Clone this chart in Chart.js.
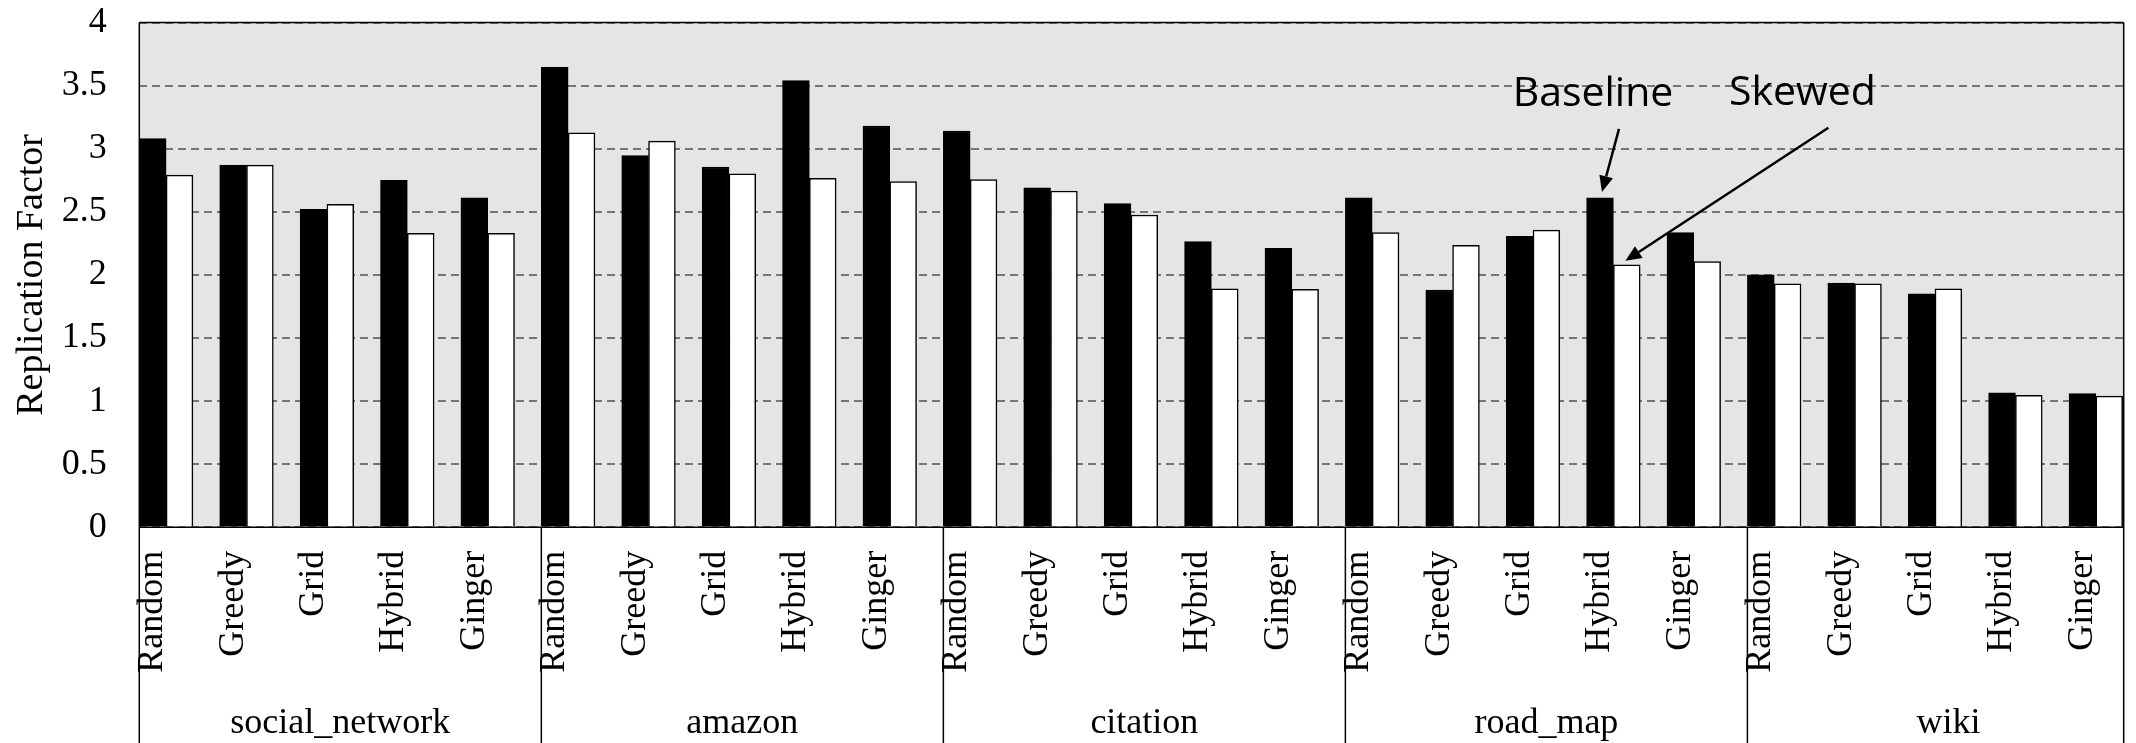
<!DOCTYPE html>
<html>
<head>
<meta charset="utf-8">
<script src="https://cdn.jsdelivr.net/npm/chart.js@4/dist/chart.umd.min.js"></script>
<style>
  html, body { margin: 0; padding: 0; background: #fff; overflow: hidden; }
  #wrap { position: relative; width: 2136px; height: 743px; }
</style>
</head>
<body>
<div id="wrap"><canvas id="chart"></canvas></div>
<script>
// Datasets (graph) and partitioning methods
const groups = ['social_network', 'amazon', 'citation', 'road_map', 'wiki'];
const methods = ['Random', 'Greedy', 'Grid', 'Hybrid', 'Ginger'];

// Replication factor per group, in method order
const baselineSocial   = [3.08, 2.87, 2.52, 2.75, 2.61];
const baselineAmazon   = [3.645, 2.945, 2.855, 3.54, 3.18];
const baselineCitation = [3.14, 2.69, 2.565, 2.265, 2.21];
const baselineRoad     = [2.61, 1.88, 2.305, 2.61, 2.335];
const baselineWiki     = [2.00, 1.935, 1.85, 1.065, 1.06];

const skewedSocial   = [2.79, 2.87, 2.56, 2.33, 2.33];
const skewedAmazon   = [3.125, 3.06, 2.80, 2.765, 2.74];
const skewedCitation = [2.755, 2.665, 2.475, 1.89, 1.885];
const skewedRoad     = [2.335, 2.235, 2.355, 2.08, 2.105];
const skewedWiki     = [1.93, 1.93, 1.89, 1.045, 1.04];

const yTickLabels = ['0', '0.5', '1', '1.5', '2', '2.5', '3', '3.5', '4'];

const baselineAll = [].concat(baselineSocial, baselineAmazon, baselineCitation, baselineRoad, baselineWiki);
const skewedAll = [].concat(skewedSocial, skewedAmazon, skewedCitation, skewedRoad, skewedWiki);
const slotCount = groups.length * methods.length;
const toPoints = vals => vals.map((v, i) => ({ x: i, y: v }));
const emptySlot = Array.from({ length: slotCount }, (_, i) => ({ x: i, y: null }));

const SERIF = '"Liberation Serif", "Times New Roman", serif';
const SANS = '"Open Sans", "Noto Sans", sans-serif';

function drawArrow(ctx, x0, y0, x1, y1) {
  const ang = Math.atan2(y1 - y0, x1 - x0);
  const len = 16, half = 7;
  const bx = x1 - len * Math.cos(ang), by = y1 - len * Math.sin(ang);
  ctx.beginPath();
  ctx.moveTo(x0, y0);
  ctx.lineTo(bx, by);
  ctx.stroke();
  ctx.beginPath();
  ctx.moveTo(x1, y1);
  ctx.lineTo(bx + half * Math.sin(ang), by - half * Math.cos(ang));
  ctx.lineTo(bx - half * Math.sin(ang), by + half * Math.cos(ang));
  ctx.closePath();
  ctx.fill();
}

// Plot background, frame, multi-level category axis and callouts
const decorations = {
  id: 'decorations',
  beforeDraw(chart) {
    const { ctx, chartArea: a } = chart;
    ctx.save();
    ctx.fillStyle = '#e5e5e5';
    ctx.fillRect(a.left, a.top, a.right - a.left, a.bottom - a.top);
    ctx.restore();
  },
  afterDraw(chart) {
    const { ctx, chartArea: a, scales: { x, y } } = chart;
    const H = chart.height;
    ctx.save();

    // frame and group separators
    ctx.strokeStyle = '#000';
    ctx.lineWidth = 1.5;
    ctx.beginPath();
    ctx.moveTo(a.left, a.top);
    ctx.lineTo(a.right, a.top);
    ctx.moveTo(a.left, a.bottom);
    ctx.lineTo(a.right, a.bottom);
    ctx.moveTo(a.right, a.top);
    ctx.lineTo(a.right, H);
    for (let g = 0; g < groups.length; g++) {
      const gx = x.getPixelForValue(g * methods.length - 0.5);
      ctx.moveTo(gx, g === 0 ? a.top : a.bottom);
      ctx.lineTo(gx, H);
    }
    ctx.stroke();

    // method labels, read upwards, under the first bar of each pair
    ctx.fillStyle = '#000';
    ctx.font = '36px ' + SERIF;
    ctx.textAlign = 'right';
    ctx.textBaseline = 'middle';
    for (let i = 0; i < slotCount; i++) {
      ctx.save();
      ctx.translate(x.getPixelForValue(i - 1 / 3), a.bottom + 23.5);
      ctx.rotate(-Math.PI / 2);
      ctx.fillText(methods[i % methods.length], 0, 0);
      ctx.restore();
    }

    // group labels
    ctx.textAlign = 'center';
    ctx.textBaseline = 'alphabetic';
    groups.forEach((g, gi) => {
      ctx.fillText(g, x.getPixelForValue(gi * methods.length + 2), a.bottom + 206);
    });

    // callouts on road_map / Hybrid
    const idx = groups.indexOf('road_map') * methods.length + methods.indexOf('Hybrid');
    const slotW = (x.getPixelForValue(1) - x.getPixelForValue(0)) / 3;
    const groupLeft = x.getPixelForValue(idx - 0.5);
    const tipB = { x: groupLeft + slotW / 2 + 2, y: y.getPixelForValue(baselineAll[idx]) - 6 };
    const tailB = { x: tipB.x + 17, y: tipB.y - 63 };
    const tipS = { x: groupLeft + slotW + 12, y: y.getPixelForValue(skewedAll[idx]) - 4 };
    const tailS = { x: tipS.x + 203, y: tipS.y - 133 };

    ctx.lineWidth = 2.5;
    ctx.strokeStyle = '#000';
    ctx.fillStyle = '#000';
    drawArrow(ctx, tailB.x, tailB.y, tipB.x, tipB.y);
    drawArrow(ctx, tailS.x, tailS.y, tipS.x, tipS.y);

    ctx.font = '41px ' + SANS;
    ctx.textAlign = 'center';
    ctx.textBaseline = 'alphabetic';
    ctx.fillText('Baseline', tailB.x - 26, tailB.y - 23);
    ctx.fillText('Skewed', tailS.x - 26, tailS.y - 23);

    ctx.restore();
  }
};

new Chart(document.getElementById('chart'), {
  type: 'bar',
  data: {
    datasets: [
      {
        label: 'Baseline',
        data: toPoints(baselineAll),
        backgroundColor: '#000',
        borderColor: '#000',
        borderWidth: 1.5
      },
      {
        label: 'Skewed',
        data: toPoints(skewedAll),
        backgroundColor: '#fff',
        borderColor: '#000',
        borderWidth: 1.5
      },
      {
        label: '',
        data: emptySlot,
        backgroundColor: 'rgba(0,0,0,0)',
        borderWidth: 0
      }
    ]
  },
  options: {
    responsive: true,
    maintainAspectRatio: false,
    animation: false,
    events: [],
    layout: { padding: { top: 22.5, right: 12.3, left: 0, bottom: 0 } },
    datasets: { bar: { categoryPercentage: 1, barPercentage: 1 } },
    plugins: { legend: { display: false }, tooltip: { enabled: false } },
    scales: {
      x: {
        type: 'linear',
        offset: false,
        min: -0.5,
        max: 24.18,
        grid: { display: false, offset: false },
        border: { display: false },
        ticks: { display: false },
        afterFit(s) { s.height = 215.7; }
      },
      y: {
        min: 0,
        max: 4,
        afterFit(s) { s.width = 139.3; },
        border: { display: false, dash: [8, 5] },
        grid: {
          color: '#767676',
          lineWidth: 2,
          drawTicks: true,
          tickLength: 32.6,
          tickColor: 'rgba(0,0,0,0)'
        },
        ticks: {
          stepSize: 0.5,
          autoSkip: false,
          padding: 0,
          color: '#000',
          font: { family: SERIF, size: 36 },
          callback: (v, i) => yTickLabels[i]
        },
        title: {
          display: true,
          text: 'Replication Factor',
          color: '#000',
          font: { family: SERIF, size: 38 },
          padding: { top: 9, bottom: 0 }
        }
      }
    }
  },
  plugins: [decorations]
});
</script>
</body>
</html>
